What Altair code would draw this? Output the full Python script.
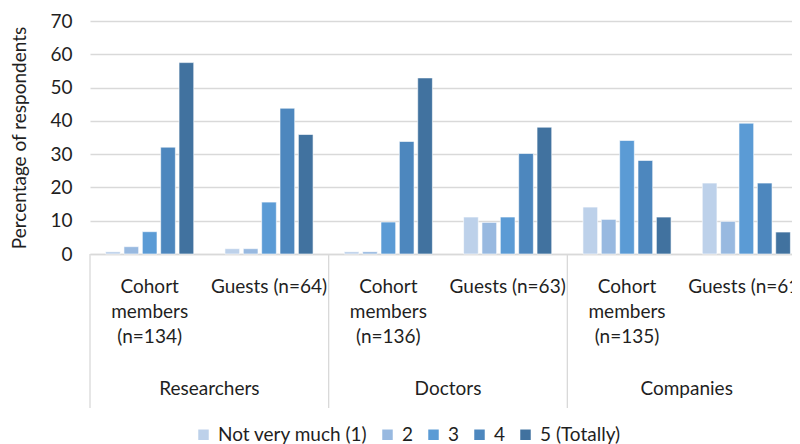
import altair as alt
import pandas as pd

categories = ["Researchers", "Doctors", "Companies"]
subgroups = [
    "Cohort members (n=134)", "Guests (n=64)",
    "Cohort members (n=136)", "Guests (n=63)",
    "Cohort members (n=135)", "Guests (n=61)",
]
subgroup_category = ["Researchers", "Researchers", "Doctors", "Doctors", "Companies", "Companies"]
series = ["Not very much (1)", "2", "3", "4", "5 (Totally)"]
values = [
    [0.7, 2.2, 6.7, 32.1, 57.5],
    [1.6, 1.6, 15.6, 43.8, 35.9],
    [0.7, 0.7, 9.6, 33.8, 52.9],
    [11.1, 9.5, 11.1, 30.2, 38.1],
    [14.1, 10.4, 34.1, 28.1, 11.1],
    [21.3, 9.8, 39.3, 21.3, 6.6],
]
colors = ["#bdd1ea", "#98b9e0", "#5b9bd5", "#4d87be", "#41729f"]

rows = []
for g, cat, vals in zip(subgroups, subgroup_category, values):
    for s, v in zip(series, vals):
        rows.append({"grp": g, "category": cat, "series": s, "value": v})
df = pd.DataFrame(rows)

div_df = pd.DataFrame({"grp": [subgroups[0], subgroups[2], subgroups[4]]})
lab_df = pd.DataFrame({"grp": [subgroups[1], subgroups[3], subgroups[5]], "category": categories})

FONT = "Lato"
TXT = "#1f1f1f"
FS = 19

xscale = alt.Scale(domain=subgroups, paddingInner=0, paddingOuter=0)

bars = alt.Chart(df).mark_bar(stroke="#ffffff", strokeWidth=0.6).encode(
    x=alt.X("grp:N", scale=xscale, sort=subgroups,
            axis=alt.Axis(title=None, labelAngle=0, ticks=False, domain=True,
                          domainColor="#d9d9d9", domainWidth=1.3,
                          labelFont=FONT, labelFontSize=FS, labelColor=TXT,
                          labelPadding=23, labelLineHeight=25, labelLimit=200,
                          labelExpr="indexof(datum.value,'Cohort')==0 ? split(datum.value,' ') : datum.value")),
    xOffset=alt.XOffset("series:N", sort=series,
                        scale=alt.Scale(domain=series, paddingOuter=0.85, paddingInner=0.2)),
    y=alt.Y("value:Q", scale=alt.Scale(domain=[0, 70]),
            axis=alt.Axis(title="Percentage of respondents", values=[0, 10, 20, 30, 40, 50, 60, 70],
                          domain=False, ticks=False, grid=True, gridColor="#d9d9d9", gridWidth=1.3,
                          labelFont=FONT, labelFontSize=FS, labelColor=TXT, labelPadding=18,
                          titleFont=FONT, titleFontSize=FS, titleFontWeight="normal",
                          titleColor=TXT, titlePadding=20)),
    color=alt.Color("series:N", sort=series, scale=alt.Scale(domain=series, range=colors),
                    legend=alt.Legend(title=None, orient="none", direction="horizontal",
                                      legendX=104, legendY=404, symbolType="square",
                                      symbolSize=110, symbolStrokeWidth=0,
                                      labelFont=FONT, labelFontSize=FS, labelColor=TXT,
                                      columnPadding=10, labelOffset=5)),
)

dividers = alt.Chart(div_df).mark_rule(color="#d9d9d9", strokeWidth=1.3).encode(
    x=alt.X("grp:N", scale=xscale, sort=subgroups, bandPosition=0),
    y=alt.value(233),
    y2=alt.value(387),
)

cat_labels = alt.Chart(lab_df).mark_text(font=FONT, fontSize=FS, color=TXT, baseline="middle").encode(
    x=alt.X("grp:N", scale=xscale, sort=subgroups, bandPosition=0),
    y=alt.value(368),
    text="category:N",
)

chart = alt.layer(bars, dividers, cat_labels).properties(
    width=716, height=233,
    autosize=alt.AutoSizeParams(type="none"),
    padding={"left": 82, "top": 13, "right": -14, "bottom": 190},
).configure_view(stroke=None)

chart.save("out.html", embed_options={"renderer": "svg", "actions": False})
